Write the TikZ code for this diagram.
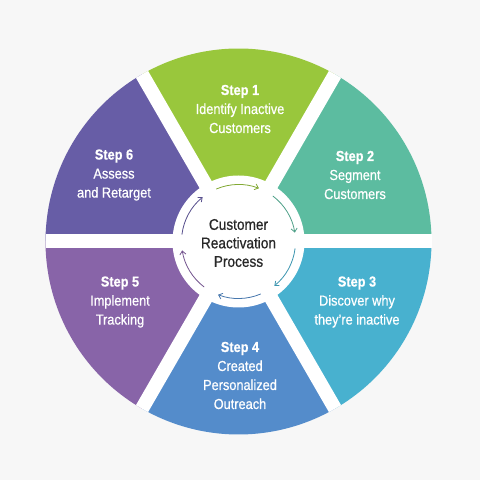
\documentclass[tikz,border=0pt]{standalone}
\usepackage{fontspec}
\setmainfont{Liberation Sans}[FakeStretch=0.88,FakeBold=0.6]
\usepackage{tikz}
\usetikzlibrary{arrows.meta}
\definecolor{stepgreen}{RGB}{153,199,60}
\definecolor{stepteal}{RGB}{92,188,160}
\definecolor{stepcyan}{RGB}{72,177,207}
\definecolor{stepblue}{RGB}{84,140,203}
\definecolor{steppurple}{RGB}{136,100,168}
\definecolor{stepindigo}{RGB}{103,93,166}
\definecolor{bggray}{RGB}{247,247,247}
\definecolor{hubtextcol}{RGB}{40,40,40}

\begin{document}
\begin{tikzpicture}[x=1pt,y=1pt,
  steptext/.style={text=white,align=center,font=\fontsize{14.5}{19}\selectfont},
  hubtext/.style={text=hubtextcol,align=center,font=\fontsize{15.5}{18.5}\selectfont},
  cyclearrow/.style={line width=0.8pt,-{Straight Barb[length=3.5pt,width=6pt]}}]
\fill[bggray] (0,0) rectangle (480,480);
\coordinate (hub) at (238.5,238.5);

% Segments
\foreach \ang/\col in {90/stepgreen,30/stepteal,-30/stepcyan,-90/stepblue,-150/steppurple,150/stepindigo}{
  \fill[\col] (hub) -- ++(\ang+30:193) arc[start angle=\ang+30,end angle=\ang-30,radius=193] -- cycle;
}

% Gaps between segments
\foreach \ang in {0,60,...,300}
  \draw[white,line width=14pt] (hub) -- ++(\ang:193);

% Centre disk
\fill[white] (hub) circle[radius=66];

% Cycle arrows
\foreach \ang/\col in {90/stepgreen,30/stepteal,-30/stepcyan,-90/stepblue,-150/steppurple,150/stepindigo}{
  \draw[cyclearrow,\col!85!black] (hub) ++(\ang+23:57) arc[start angle=\ang+23,end angle=\ang-21,radius=57];
}

% Labels
\node[steptext] (step1) at (240,371) {\textbf{Step 1}\\Identify Inactive\\Customers};
\node[steptext] (step2) at (355,305) {\textbf{Step 2}\\Segment\\Customers};
\node[steptext] (step3) at (357,178) {\textbf{Step 3}\\Discover why\\they're inactive};
\node[steptext] (step4) at (240,104.5) {\textbf{Step 4}\\Created\\Personalized\\Outreach};
\node[steptext] (step5) at (120,178) {\textbf{Step 5}\\Implement\\Tracking};
\node[steptext] (step6) at (114,305) {\textbf{Step 6}\\Assess\\and Retarget};
\node[hubtext] (hubtitle) at (238.5,237) {Customer\\Reactivation\\Process};
\end{tikzpicture}
\end{document}
